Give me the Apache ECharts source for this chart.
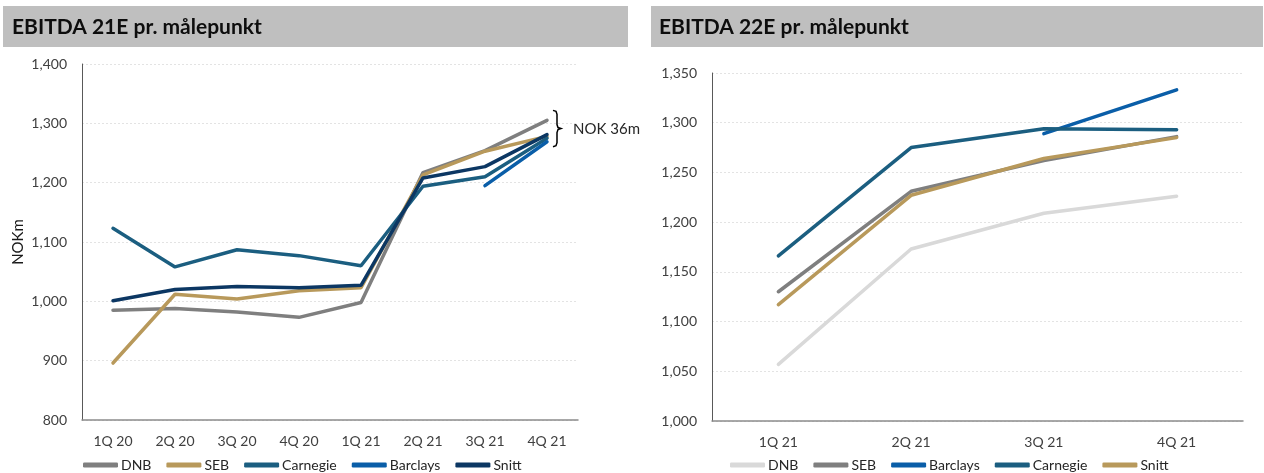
<!DOCTYPE html>
<html>
<head>
<meta charset="utf-8">
<script src="https://cdn.jsdelivr.net/npm/echarts@6/dist/echarts.min.js"></script>
<style>
html,body{margin:0;padding:0;background:#fff;}
#c{width:1264px;height:473px;}
</style>
</head>
<body>
<div id="c"></div>
<script>
// ---- Left chart: EBITDA 21E ----
const titleLeft = 'EBITDA 21E pr. målepunkt';
const yNameLeft = 'NOKm';
const catsLeft = ['1Q 20','2Q 20','3Q 20','4Q 20','1Q 21','2Q 21','3Q 21','4Q 21'];
const leftDNB      = [985, 988, 982, 973, 998, 1217, 1254, 1305];
const leftSEB      = [896, 1012, 1004, 1018, 1023, 1213, 1253, 1278];
const leftCarnegie = [1123, 1058, 1087, 1077, 1060, 1194, 1210, 1275];
const leftBarclays = [null, null, null, null, null, null, 1195, 1269];
const leftSnitt    = [1001, 1020, 1025, 1023, 1027, 1208, 1227, 1281];
const leftAnnotation = 'NOK 36m';

// ---- Right chart: EBITDA 22E ----
const titleRight = 'EBITDA 22E pr. målepunkt';
const catsRight = ['1Q 21','2Q 21','3Q 21','4Q 21'];
const rightDNB      = [1057, 1173, 1209, 1226];
const rightSEB      = [1130, 1231, 1262, 1286];
const rightBarclays = [null, null, 1289, 1333];
const rightCarnegie = [1166, 1275, 1294, 1293];
const rightSnitt    = [1117, 1227, 1264, 1285];

const C = {
  gray: '#7f7f7f', tan: '#b8995b', teal: '#1b5e80', blue: '#0a5ea8',
  navy: '#0c3763', light: '#d9d9d9'
};
const FONT = 'Lato, "Open Sans", sans-serif';
const fmt = v => String(v).replace(/\B(?=(\d{3})+(?!\d))/g, ',');

function lineSeries(name, data, color, xi) {
  return {
    type: 'line', name, data, xAxisIndex: xi, yAxisIndex: xi,
    showSymbol: false, symbol: 'none', smooth: false,
    lineStyle: { color, width: 3.5, cap: 'round' },
    itemStyle: { color },
    emphasis: { disabled: true },
    connectNulls: false
  };
}

function yAxis(gi, min, max, interval) {
  return {
    type: 'value', gridIndex: gi, min, max, interval,
    axisLine: { show: true, lineStyle: { color: '#595959', width: 1 } },
    axisTick: { show: false },
    axisLabel: { color: '#404040', fontSize: 14, fontFamily: FONT, margin: 15, formatter: fmt },
    splitLine: { show: true, lineStyle: { color: '#e3e3e3', type: [2, 2], width: 1 } }
  };
}
function xAxis(gi, cats) {
  return {
    type: 'category', gridIndex: gi, data: cats, boundaryGap: true,
    axisLine: { show: true, lineStyle: { color: '#8c8c8c', width: 1.5 } },
    axisTick: { show: false },
    axisLabel: { color: '#404040', fontSize: 14, fontFamily: FONT, margin: 14 },
    splitLine: { show: false }
  };
}
function legend(left, names) {
  return {
    left, top: 458, padding: 0, data: names, icon: 'roundRect', itemWidth: 35, itemHeight: 5,
    itemGap: 15, selectedMode: false,
    textStyle: { color: '#262626', fontSize: 14, fontFamily: FONT, padding: [0, 0, 0, -2] }
  };
}

const chart = echarts.init(document.getElementById('c'), null, { renderer: 'canvas' });
const option = {
  animation: false,
  backgroundColor: '#ffffff',
  grid: [
    { left: 82, right: 1264 - 578, top: 64, bottom: 473 - 420 },
    { left: 712, right: 1264 - 1243, top: 73, bottom: 473 - 421 }
  ],
  xAxis: [xAxis(0, catsLeft), xAxis(1, catsRight)],
  yAxis: [yAxis(0, 800, 1400, 100), yAxis(1, 1000, 1350, 50)],
  legend: [
    legend(83, ['DNB', 'SEB', 'Carnegie', 'Barclays', 'Snitt']),
    legend(730, ['DNB ', 'SEB ', 'Barclays ', 'Carnegie ', 'Snitt '])
  ],
  series: [
    lineSeries('DNB', leftDNB, C.gray, 0),
    lineSeries('SEB', leftSEB, C.tan, 0),
    lineSeries('Carnegie', leftCarnegie, C.teal, 0),
    lineSeries('Barclays', leftBarclays, C.blue, 0),
    lineSeries('Snitt', leftSnitt, C.navy, 0),
    lineSeries('DNB ', rightDNB, C.light, 1),
    lineSeries('SEB ', rightSEB, C.gray, 1),
    lineSeries('Barclays ', rightBarclays, C.blue, 1),
    lineSeries('Carnegie ', rightCarnegie, C.teal, 1),
    lineSeries('Snitt ', rightSnitt, C.tan, 1)
  ],
  graphic: []
};
option.legend[1].formatter = n => n.trim();
chart.setOption(option);

// Annotation bracket computed from the last-category values
const lastIdx = catsLeft.length - 1;
const lastVals = [leftDNB, leftSEB, leftCarnegie, leftBarclays, leftSnitt].map(a => a[lastIdx]).filter(v => v != null);
const vMax = Math.max(...lastVals), vMin = Math.min(...lastVals);
const pTop = chart.convertToPixel({ gridIndex: 0 }, [lastIdx, vMax]);
const pBot = chart.convertToPixel({ gridIndex: 0 }, [lastIdx, vMin]);
const bx = pTop[0] + 10;
const bTop = pTop[1] - 10, bBot = pBot[1] + 5, bMid = (bTop + bBot) / 2;

chart.setOption({
  graphic: [
    { type: 'rect', left: 3, top: 6, shape: { width: 625, height: 41 }, style: { fill: '#bfbfbf' }, silent: true },
    { type: 'rect', left: 651, top: 6, shape: { width: 612, height: 41 }, style: { fill: '#bfbfbf' }, silent: true },
    { type: 'text', x: 12, y: 27, style: { text: titleLeft, fill: '#0d0d0d', font: 'bold 21px ' + FONT, textVerticalAlign: 'middle' }, silent: true },
    { type: 'text', x: 659, y: 27, style: { text: titleRight, fill: '#0d0d0d', font: 'bold 21px ' + FONT, textVerticalAlign: 'middle' }, silent: true },
    { type: 'text', x: 18, y: 242, rotation: Math.PI / 2, style: { text: yNameLeft, fill: '#1a1a1a', font: '15px ' + FONT, align: 'center', verticalAlign: 'middle' }, silent: true },
    { type: 'polyline', shape: { points: [[bx - 4, bTop], [bx - 1, bTop + 1], [bx, bTop + 4], [bx, bMid - 4], [bx + 1, bMid - 1], [bx + 4, bMid], [bx + 1, bMid + 1], [bx, bMid + 4], [bx, bBot - 4], [bx - 1, bBot - 1], [bx - 4, bBot]] },
      style: { stroke: '#000', lineWidth: 1.5, fill: null }, silent: true },
    { type: 'text', x: bx + 16, y: bMid + 1, style: { text: leftAnnotation, fill: '#262626', font: '15px ' + FONT, textVerticalAlign: 'middle' }, silent: true }
  ]
});
</script>
</body>
</html>
